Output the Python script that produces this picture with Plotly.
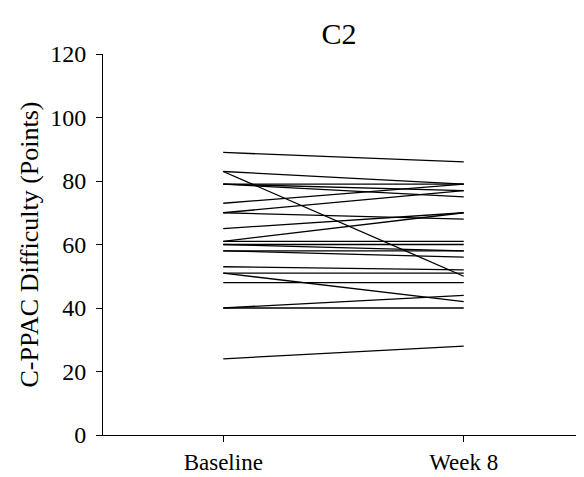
import plotly.graph_objects as go

timepoints = ["Baseline", "Week 8"]
baseline = [89, 83, 83, 79, 79, 79, 73, 70, 70, 65, 61, 61, 60, 60, 58, 58, 53, 51, 51, 48, 40, 40, 24]
week8 = [86, 79, 50, 79, 77, 75, 79, 77, 68, 70, 70, 61, 60, 58, 58, 56, 52, 51, 42, 48, 40, 44, 28]
y_ticks = [0, 20, 40, 60, 80, 100, 120]

fig = go.Figure()
xpos = list(range(len(timepoints)))
for b, w in zip(baseline, week8):
    fig.add_trace(go.Scatter(x=xpos, y=[b, w], mode="lines",
                             line=dict(color="black", width=1.3),
                             showlegend=False, hoverinfo="skip"))

font = "Liberation Serif, Times New Roman, serif"
# page body has an 8px margin, so the figure is 8px smaller than the window
fig.update_layout(
    width=576, height=469,
    margin=dict(l=95, r=0, t=46, b=42),
    plot_bgcolor="white", paper_bgcolor="white",
    title=dict(text="C2", x=0.5747, xanchor="center", y=0.9446, yanchor="middle",
               font=dict(family=font, size=30, color="black")),
    font=dict(family=font, color="black"),
)
fig.update_xaxes(range=[-0.5, 1.5], tickvals=xpos, ticktext=timepoints,
                 showline=True, linecolor="black", linewidth=1,
                 ticks="outside", ticklen=6, tickcolor="black",
                 showgrid=False, zeroline=False,
                 tickfont=dict(family=font, size=23, color="black"))
fig.update_yaxes(range=[0, 120], tickvals=y_ticks,
                 showline=True, linecolor="black", linewidth=1,
                 ticks="outside", ticklen=6, tickcolor="black",
                 ticklabelstandoff=5,
                 showgrid=False, zeroline=False,
                 title=dict(text="C-PPAC Difficulty (Points)", standoff=4,
                            font=dict(family=font, size=26, color="black")),
                 tickfont=dict(family=font, size=24, color="black"))

fig.write_html("out.html")
